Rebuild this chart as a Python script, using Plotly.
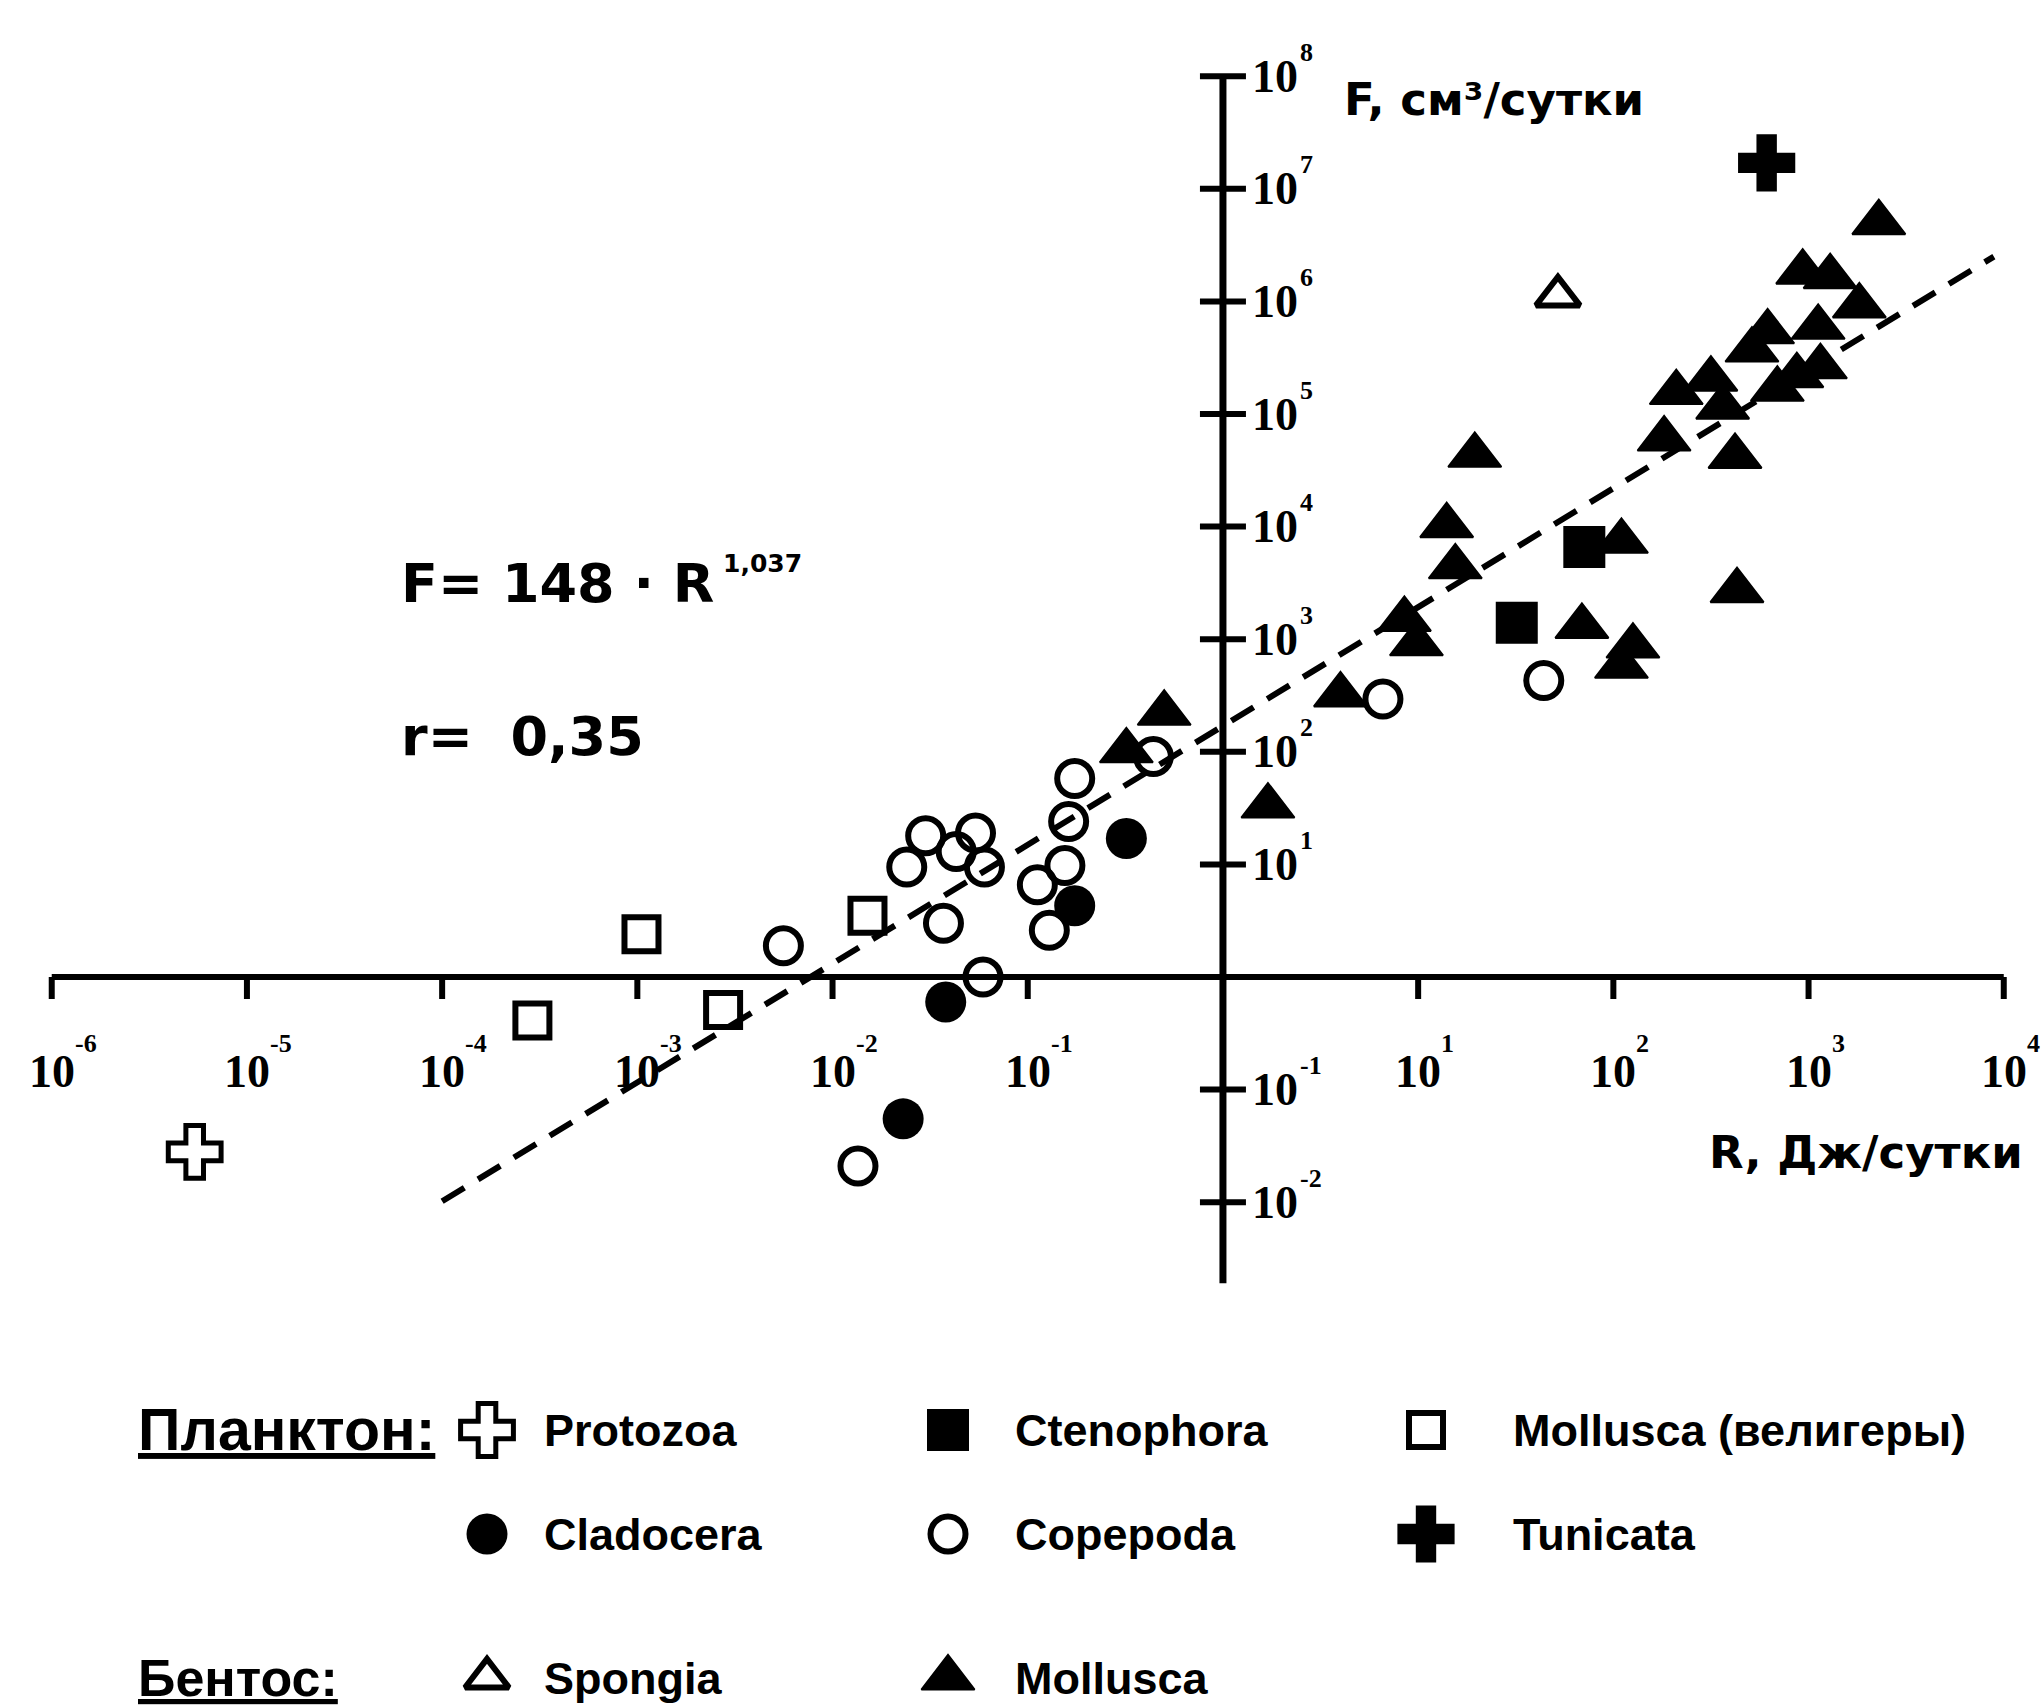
import numpy as np
import plotly.graph_objects as go

W, H = 2043, 1708

# ---------------- data (R in J/day, F in cm3/day) ----------------
protozoa_R = [5.4e-6]
protozoa_F = [0.028]

ctenophora_R = [32, 71]
ctenophora_F = [1400, 6600]

veliger_R = [0.00105, 0.00029, 0.00275, 0.0151]
veliger_F = [2.4, 0.41, 0.51, 3.5]

cladocera_R = [0.32, 0.174, 0.038, 0.023]
cladocera_F = [17, 4.3, 0.60, 0.055]

copepoda_R = [0.0056, 0.0135, 0.059, 0.037, 0.024, 0.030, 0.043, 0.054, 0.060,
              0.112, 0.129, 0.155, 0.162, 0.174, 0.44, 6.6, 44]
copepoda_F = [1.9, 0.021, 1.0, 3.0, 9.5, 18, 13, 19, 9.5,
              6.6, 2.6, 9.8, 24, 58, 91, 295, 430]

tunicata_R = [610]
tunicata_F = [1.7e7]

spongia_R = [52]
spongia_F = [1.12e6]

mollusca_R = [0.32, 0.50, 1.7, 4.0, 8.5, 9.8, 14, 15.5, 19.5, 69, 110, 126, 110, 430,
              182, 420, 210, 316, 363, 513, 617, 692, 871, 1150, 1120, 933, 1290, 1820, 2290]
mollusca_F = [102, 220, 33, 320, 1500, 910, 10200, 4400, 43000, 1300, 7400, 870, 575, 2700,
              60000, 42000, 155000, 204000, 115000, 370000, 537000, 166000, 219000, 263000,
              589000, 1.82e6, 1.66e6, 912000, 5.0e6]

# regression line end points, as drawn (F = 148 * R^1.037)
fit_R = [1e-4, 8.9e3]
fit_F = [0.0102, 2.5e6]

# axes
x_ticks = [1e-6, 1e-5, 1e-4, 1e-3, 1e-2, 1e-1, 1e1, 1e2, 1e3, 1e4]
x_tick_exp = ["-6", "-5", "-4", "-3", "-2", "-1", "1", "2", "3", "4"]
y_ticks = [1e-2, 1e-1, 1e1, 1e2, 1e3, 1e4, 1e5, 1e6, 1e7, 1e8]
y_tick_exp = ["-2", "-1", "1", "2", "3", "4", "5", "6", "7", "8"]
tick_base = "10"
x_axis_span = [1e-6, 1e4]
y_axis_span = [10 ** -2.72, 1e8]
origin = 1.0

x_title = "R, Дж/сутки"
y_title = "F, см³/сутки"
formula_main = "F= 148 · R"
formula_exp = "1,037"
r_text = "r=\u00a0 0,35"
legend_header_plankton = "Планктон:"
legend_header_benthos = "Бентос:"

# ---------------- layout constants ----------------
XR = [-6.265, 4.201]     # log10 range across full width
YR = [-6.492, 8.677]     # log10 range across full height
PX_X = W / (XR[1] - XR[0])
PX_Y = H / (YR[1] - YR[0])
XTICK_LEN = 22 / PX_Y            # decades
YTICK_HALF = 23 / PX_X           # decades

BLACK = "black"
SERIF = "Liberation Serif, Times New Roman, serif"
SANS = "DejaVu Sans, Verdana, sans-serif"
LEGF = "Liberation Sans, Arial, sans-serif"

styles = {
    "Protozoa": dict(symbol="cross-open", size=44, color=BLACK, line=dict(width=5, color=BLACK)),
    "Ctenophora": dict(symbol="square", size=40, color=BLACK, line=dict(width=2, color=BLACK)),
    "Mollusca (велигеры)": dict(symbol="square-open", size=34, color=BLACK, line=dict(width=6, color=BLACK)),
    "Cladocera": dict(symbol="circle", size=41, color=BLACK, line=dict(width=0, color=BLACK)),
    "Copepoda": dict(symbol="circle-open", size=35, color=BLACK, line=dict(width=6, color=BLACK)),
    "Tunicata": dict(symbol="cross", size=46, color=BLACK, line=dict(width=2, color=BLACK)),
    "Spongia": dict(symbol="triangle-up-open", size=38, color=BLACK, line=dict(width=6, color=BLACK)),
    "Mollusca": dict(symbol="triangle-up", size=46, color=BLACK, line=dict(width=2, color=BLACK)),
}

series = [
    ("Protozoa", protozoa_R, protozoa_F),
    ("Mollusca (велигеры)", veliger_R, veliger_F),
    ("Cladocera", cladocera_R, cladocera_F),
    ("Copepoda", copepoda_R, copepoda_F),
    ("Ctenophora", ctenophora_R, ctenophora_F),
    ("Tunicata", tunicata_R, tunicata_F),
    ("Spongia", spongia_R, spongia_F),
    ("Mollusca", mollusca_R, mollusca_F),
]

fig = go.Figure()

# ---- axis lines and ticks drawn on the log scales ----
fig.add_trace(go.Scatter(x=x_axis_span, y=[origin, origin], mode="lines",
                         line=dict(color=BLACK, width=6), hoverinfo="skip", showlegend=False))
fig.add_trace(go.Scatter(x=[origin, origin], y=y_axis_span, mode="lines",
                         line=dict(color=BLACK, width=7), hoverinfo="skip", showlegend=False))
tx, ty = [], []
for t in x_ticks:
    tx += [t, t, None]
    ty += [origin, origin * 10 ** (-XTICK_LEN), None]
fig.add_trace(go.Scatter(x=tx, y=ty, mode="lines", line=dict(color=BLACK, width=6),
                         hoverinfo="skip", showlegend=False))
tx, ty = [], []
for t in y_ticks:
    tx += [origin * 10 ** (-YTICK_HALF), origin * 10 ** YTICK_HALF, None]
    ty += [t, t, None]
fig.add_trace(go.Scatter(x=tx, y=ty, mode="lines", line=dict(color=BLACK, width=6),
                         hoverinfo="skip", showlegend=False))

# ---- regression line ----
fig.add_trace(go.Scatter(x=fit_R, y=fit_F, mode="lines",
                         line=dict(color=BLACK, width=6, dash="26px,16px"),
                         hoverinfo="skip", showlegend=False))

# ---- data points ----
for name, xs, ys in series:
    fig.add_trace(go.Scatter(x=xs, y=ys, mode="markers", name=name,
                             marker=styles[name], cliponaxis=False, showlegend=False))

annotations = []


def ann(text, x, y, xref, yref, size, family, xanchor="left", yanchor="middle",
        xshift=0, yshift=0, bold=True):
    annotations.append(dict(
        x=x, y=y, xref=xref, yref=yref, text=("<b>%s</b>" % text) if bold else text,
        showarrow=False, xanchor=xanchor, yanchor=yanchor, xshift=xshift, yshift=yshift,
        borderpad=0, font=dict(family=family, size=size, color=BLACK)))


# tick labels: base "10" and a separate small exponent
for t, e in zip(x_ticks, x_tick_exp):
    ann(tick_base, np.log10(t), np.log10(origin), "x", "y", 46, SERIF,
        xanchor="center", yshift=-94)
    ann(e, np.log10(t), np.log10(origin), "x", "y", 26, SERIF,
        xanchor="left", xshift=22, yshift=-66)
for t, e in zip(y_ticks, y_tick_exp):
    ann(tick_base, np.log10(origin), np.log10(t), "x", "y", 46, SERIF,
        xanchor="left", xshift=28)
    ann(e, np.log10(origin), np.log10(t), "x", "y", 26, SERIF,
        xanchor="left", xshift=76, yshift=24)

# axis titles
ann(y_title, 1343 / W, 1 - 100 / H, "paper", "paper", 45, SANS)
ann(x_title, 2024 / W, 1 - 1152 / H, "paper", "paper", 45, SANS, xanchor="right")
# formula
ann(formula_main, 400 / W, 1 - 584 / H, "paper", "paper", 54, SANS)
ann(formula_exp, 722 / W, 1 - 563 / H, "paper", "paper", 25, SANS)
ann(r_text, 400 / W, 1 - 736 / H, "paper", "paper", 54, SANS)

# ---- custom legend (second, pixel-like axes) ----
leg_rows_y = [1430, 1534, 1678]
leg_marker_x = [487, 948, 1426]
leg_text_x = [543, 1014, 1512]
legend_layout = [
    ("Protozoa", 0, 0), ("Ctenophora", 0, 1), ("Mollusca (велигеры)", 0, 2),
    ("Cladocera", 1, 0), ("Copepoda", 1, 1), ("Tunicata", 1, 2),
    ("Spongia", 2, 0), ("Mollusca", 2, 1),
]
for name, r, c in legend_layout:
    fig.add_trace(go.Scatter(x=[leg_marker_x[c]], y=[leg_rows_y[r]], mode="markers",
                             marker=styles[name], xaxis="x2", yaxis="y2",
                             cliponaxis=False, showlegend=False, hoverinfo="skip"))
    ann(name, leg_text_x[c], leg_rows_y[r], "x2", "y2", 45, LEGF)
ann("<u>%s</u>" % legend_header_plankton, 137, leg_rows_y[0], "x2", "y2", 59, LEGF)
ann("<u>%s</u>" % legend_header_benthos, 137, leg_rows_y[2], "x2", "y2", 52, LEGF)

fig.update_layout(
    width=W, height=H,
    margin=dict(l=0, r=0, t=0, b=0),
    paper_bgcolor="white", plot_bgcolor="white",
    showlegend=False,
    xaxis=dict(type="log", range=XR, visible=False, domain=[0, 1]),
    yaxis=dict(type="log", range=YR, visible=False, domain=[0, 1]),
    xaxis2=dict(range=[0, W], visible=False, domain=[0, 1], anchor="y2", overlaying="x"),
    yaxis2=dict(range=[H, 0], visible=False, domain=[0, 1], anchor="x2", overlaying="y"),
    annotations=annotations,
)

fig.write_html("out.html", config={"displayModeBar": False},
               post_script="document.body.style.margin='0px';document.body.style.overflow='hidden';")
